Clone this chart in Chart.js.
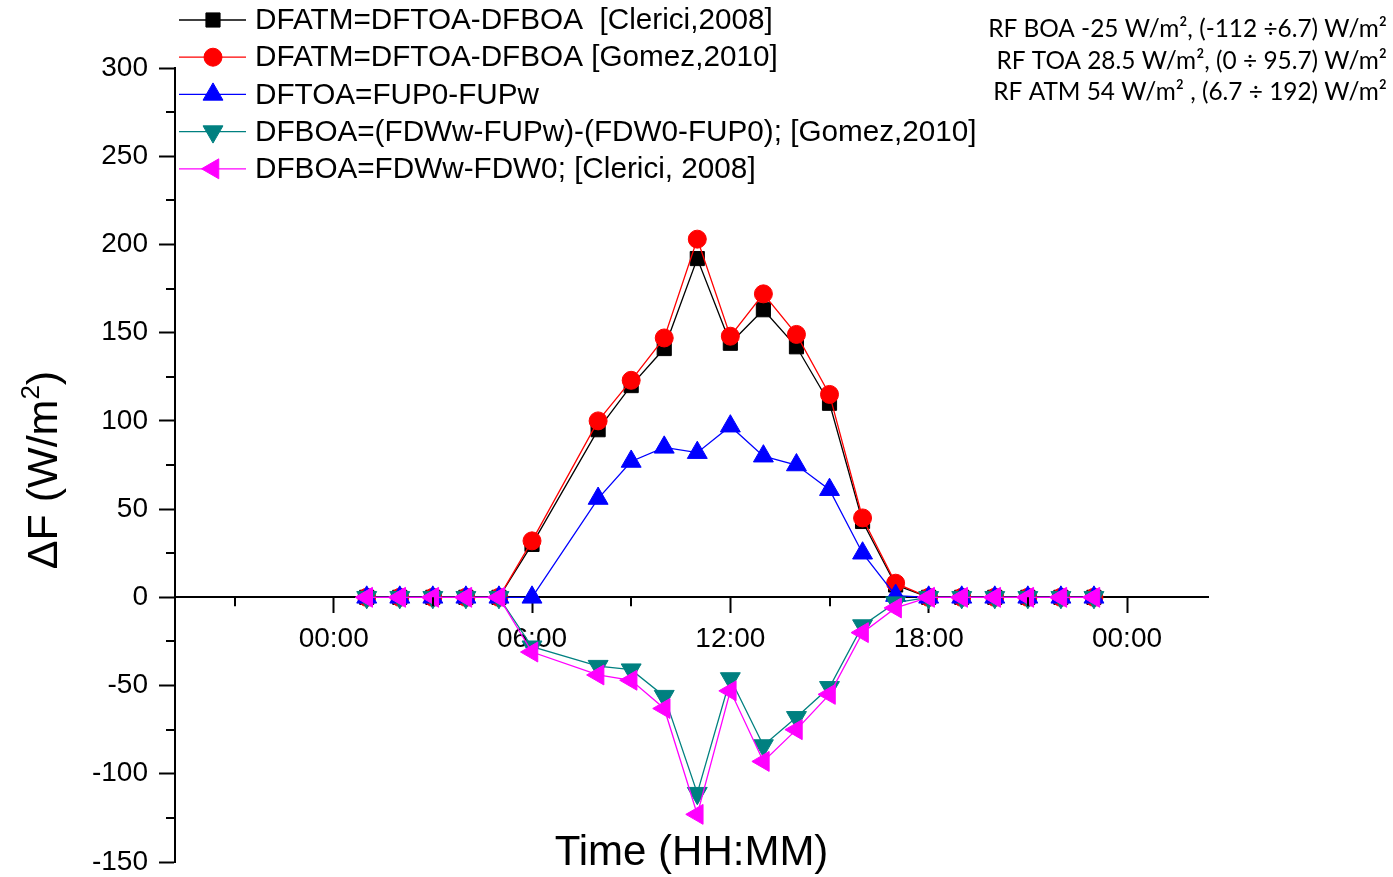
<!DOCTYPE html>
<html lang="en">
<head>
<meta charset="UTF-8">
<title>Radiative forcing - daily cycle</title>
<script src="https://cdn.jsdelivr.net/npm/chart.js"></script>
<style>
  body { margin: 0; background: #ffffff; }
  #wrap { position: relative; width: 1393px; height: 877px; }
</style>
</head>
<body>
<div id="wrap"><canvas id="rfChart"></canvas></div>
<script>
// hour of day of each sample (there is no 07:00 sample)
const hours = [1, 2, 3, 4, 5, 6, 8, 9, 10, 11, 12, 13, 14, 15, 16, 17, 18, 19, 20, 21, 22, 23];

// W/m2
const atmClerici = [0, 0, 0, 0, 0, 30, 95, 120, 141, 192, 144, 163, 142, 110, 43, 7, 0, 0, 0, 0, 0, 0];
const atmGomez   = [0, 0, 0, 0, 0, 32, 100, 123, 147, 203, 148, 172, 149, 115, 45, 8, 0, 0, 0, 0, 0, 0];
const toa        = [0, 0, 0, 0, 0, 0, 56, 77, 85, 82, 97, 80, 75, 61, 25, 1, 0, 0, 0, 0, 0, 0];
const boaGomez   = [0, 0, 0, 0, 0, -28, -39, -41, -56, -111, -46, -84, -68, -51, -16, -3, 0, 0, 0, 0, 0, 0];
const boaClerici = [0, 0, 0, 0, 0, -31, -44, -47, -63, -123, -53, -93, -75, -55, -20, -6, 0, 0, 0, 0, 0, 0];

const seriesNames = [
  'DFATM=DFTOA-DFBOA  [Clerici,2008]',
  'DFATM=DFTOA-DFBOA [Gomez,2010]',
  'DFTOA=FUP0-FUPw',
  'DFBOA=(FDWw-FUPw)-(FDW0-FUP0); [Gomez,2010]',
  'DFBOA=FDWw-FDW0; [Clerici, 2008]'
];

const xMajorTicks = [0, 6, 12, 18, 24];
const xMinorTicks = [-3, 3, 9, 15, 21];
const yMajorTicks = [-150, -100, -50, 0, 50, 100, 150, 200, 250, 300];
const yMinorTicks = [-125, -75, -25, 25, 75, 125, 175, 225, 275];

const noteLines = [
  'RF BOA -25 W/m\u00b2, (-112 \u00f76.7) W/m\u00b2',
  'RF TOA 28.5 W/m\u00b2, (0 \u00f7 95.7) W/m\u00b2',
  'RF ATM 54 W/m\u00b2 , (6.7 \u00f7 192) W/m\u00b2'
];

function pts(vals) {
  return hours.map((h, i) => ({ x: h, y: vals[i] }));
}

function series(label, vals, color, style, radius, rotation, order) {
  return {
    label: label,
    data: pts(vals),
    showLine: true,
    borderColor: color,
    backgroundColor: color,
    borderWidth: 1.3,
    pointStyle: style,
    pointRadius: radius,
    pointRotation: rotation,
    pointBackgroundColor: color,
    pointBorderColor: color,
    pointBorderWidth: 1,
    order: order
  };
}

const datasets = [
  series(seriesNames[0], atmClerici, '#000000', 'rect', 10, 0, 5),
  series(seriesNames[1], atmGomez, '#ff0000', 'circle', 9, 0, 4),
  series(seriesNames[2], toa, '#0000ff', 'triangle', 11.5, 0, 3),
  series(seriesNames[3], boaGomez, '#008080', 'triangle', 11.5, 180, 2),
  series(seriesNames[4], boaClerici, '#ff00ff', 'triangle', 11.5, 270, 1)
];

function hhmm(v) {
  const h = ((v % 24) + 24) % 24;
  return (h < 10 ? '0' : '') + h + ':00';
}

// minor ticks, axis titles, legend and the note in the corner
const decorations = {
  id: 'decorations',
  afterDraw(chart) {
    const ctx = chart.ctx;
    const xs = chart.scales.x;
    const ys = chart.scales.y;
    const area = chart.chartArea;
    const y0 = ys.getPixelForValue(0);

    ctx.save();
    ctx.strokeStyle = '#000';
    ctx.lineWidth = 2;
    ctx.beginPath();
    xMinorTicks.forEach(v => {
      const px = Math.round(xs.getPixelForValue(v));
      ctx.moveTo(px, y0);
      ctx.lineTo(px, y0 + 9);
    });
    yMinorTicks.forEach(v => {
      const py = Math.round(ys.getPixelForValue(v));
      ctx.moveTo(area.left, py);
      ctx.lineTo(area.left - 9, py);
    });
    ctx.stroke();

    // x title
    ctx.fillStyle = '#000';
    ctx.font = '42px "Liberation Sans", Arial, sans-serif';
    ctx.textAlign = 'center';
    ctx.textBaseline = 'alphabetic';
    ctx.fillText('Time (HH:MM)', (area.left + area.right) / 2, 865);

    // y title, with a raised 2
    const big = '43px "Liberation Sans", Arial, sans-serif';
    const small = '26px "Liberation Sans", Arial, sans-serif';
    ctx.font = big;
    const wMain = ctx.measureText('\u0394F (W/m').width;
    const wClose = ctx.measureText(')').width;
    ctx.font = small;
    const wSup = ctx.measureText('2').width;
    const total = wMain + wSup + wClose;
    ctx.save();
    ctx.translate(57, (area.top + area.bottom) / 2 + 5);
    ctx.rotate(-Math.PI / 2);
    ctx.textAlign = 'left';
    let cx = -total / 2;
    ctx.font = big;
    ctx.fillText('\u0394F (W/m', cx, 0);
    cx += wMain;
    ctx.font = small;
    ctx.fillText('2', cx, -18);
    cx += wSup;
    ctx.font = big;
    ctx.fillText(')', cx, 0);
    ctx.restore();

    // legend
    const helpers = Chart.helpers;
    ctx.font = '29.7px "Liberation Sans", Arial, sans-serif';
    ctx.textAlign = 'left';
    ctx.textBaseline = 'middle';
    chart.data.datasets.forEach((ds, i) => {
      const ry = 20 + i * 37.2;
      ctx.strokeStyle = ds.borderColor;
      ctx.lineWidth = 1.3;
      ctx.beginPath();
      ctx.moveTo(179, ry);
      ctx.lineTo(246, ry);
      ctx.stroke();
      ctx.fillStyle = ds.pointBackgroundColor;
      ctx.strokeStyle = ds.pointBorderColor;
      ctx.lineWidth = 1;
      helpers.drawPoint(ctx, {
        pointStyle: ds.pointStyle,
        rotation: ds.pointRotation,
        radius: ds.pointRadius,
        borderWidth: 1
      }, 213, ry);
      ctx.fillStyle = '#000';
      ctx.fillText(ds.label, 255, ry + 1);
    });

    // note, top right
    ctx.font = '24.4px Lato, "Open Sans", sans-serif';
    ctx.textAlign = 'right';
    ctx.textBaseline = 'alphabetic';
    noteLines.forEach((t, i) => {
      ctx.fillText(t, 1387, 37 + i * 31.5);
    });
    ctx.restore();
  }
};

new Chart(document.getElementById('rfChart'), {
  type: 'scatter',
  data: { datasets: datasets },
  options: {
    responsive: true,
    maintainAspectRatio: false,
    animation: false,
    layout: { padding: { left: 0, top: 68, right: 185, bottom: 15 } },
    plugins: {
      legend: { display: false },
      tooltip: { enabled: false }
    },
    scales: {
      x: {
        type: 'linear',
        position: { y: 0 },
        min: -4.8,
        max: 26.45,
        afterBuildTicks: s => { s.ticks = xMajorTicks.map(v => ({ value: v })); },
        afterFit: s => { s.paddingLeft = 0; s.paddingRight = 0; },
        grid: { drawOnChartArea: false, drawTicks: true, tickLength: 15, tickWidth: 2, tickColor: '#000' },
        border: { display: true, color: '#000', width: 2 },
        ticks: {
          autoSkip: false,
          maxRotation: 0,
          padding: 10,
          color: '#000',
          font: { family: '"Liberation Sans", Arial, sans-serif', size: 28 },
          callback: v => hhmm(v)
        }
      },
      y: {
        type: 'linear',
        position: 'left',
        min: -150,
        max: 300,
        afterBuildTicks: s => { s.ticks = yMajorTicks.map(v => ({ value: v })); },
        afterFit: s => { s.width = 175; s.paddingTop = 0; s.paddingBottom = 0; },
        grid: { drawOnChartArea: false, drawTicks: true, tickLength: 16, tickWidth: 2, tickColor: '#000' },
        border: { display: true, color: '#000', width: 2 },
        ticks: {
          autoSkip: false,
          padding: 11,
          color: '#000',
          font: { family: '"Liberation Sans", Arial, sans-serif', size: 28 }
        }
      }
    }
  },
  plugins: [decorations]
});
</script>
</body>
</html>
